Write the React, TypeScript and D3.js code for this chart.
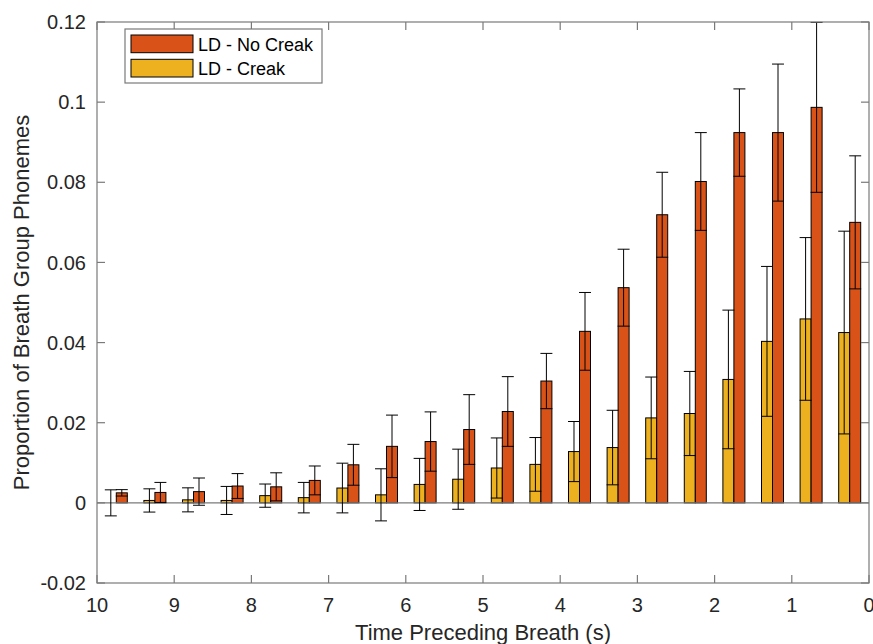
import React from 'react';
import * as d3 from 'd3';

// seconds before breath (group centres)
const times = [9.75, 9.25, 8.75, 8.25, 7.75, 7.25, 6.75, 6.25, 5.75, 5.25,
  4.75, 4.25, 3.75, 3.25, 2.75, 2.25, 1.75, 1.25, 0.75, 0.25];

const noCreak = [0.0025, 0.0026, 0.0028, 0.0042, 0.0040, 0.0056, 0.0095, 0.0141, 0.0153, 0.0183,
  0.0228, 0.0304, 0.0428, 0.0537, 0.0719, 0.0802, 0.0924, 0.0924, 0.0987, 0.0700];
const noCreakErr = [0.0008, 0.0025, 0.0034, 0.0031, 0.0035, 0.0036, 0.0051, 0.0078, 0.0074, 0.0087,
  0.0087, 0.0069, 0.0097, 0.0096, 0.0106, 0.0122, 0.0109, 0.0171, 0.0212, 0.0166];

const creak = [0.0000, 0.0006, 0.00075, 0.0006, 0.0018, 0.0013, 0.0037, 0.0020, 0.0046, 0.0059,
  0.0087, 0.0096, 0.0128, 0.0138, 0.0212, 0.0223, 0.0308, 0.0403, 0.0459, 0.0425];
const creakErr = [0.00325, 0.0029, 0.0030, 0.0035, 0.0029, 0.0038, 0.0062, 0.0065, 0.0065, 0.0075,
  0.0075, 0.0067, 0.0075, 0.0093, 0.0102, 0.0105, 0.0173, 0.0187, 0.0203, 0.0253];

const xTicks = [10, 9, 8, 7, 6, 5, 4, 3, 2, 1, 0];
const yTicks = [-0.02, 0, 0.02, 0.04, 0.06, 0.08, 0.1, 0.12];

const legendLabels = ['LD - No Creak', 'LD - Creak'];

const RED = '#D95319';
const YELLOW = '#EDB120';
const AXIS = '#7a7a7a';
const TEXT = '#262626';
const FONT = '"Liberation Sans", Arial, Helvetica, sans-serif';

export default function App() {
  const width = 873;
  const height = 644;
  const left = 97, right = 869, top = 22, bottom = 583;

  const x = d3.scaleLinear().domain([10, 0]).range([left, right]);
  const y = d3.scaleLinear().domain([-0.02, 0.12]).range([bottom, top]);

  const barW = x(0) - x(0.1425) > 0 ? Math.abs(x(0.1425) - x(0)) : 11;
  const capW = Math.abs(x(0.155) - x(0));
  const tickLen = 8;

  const errBar = (cx: number, v: number, e: number, key: string) => {
    const y1 = y(v + e), y2 = y(v - e);
    return (
      <g key={key} stroke="#000" strokeWidth={1}>
        <line x1={cx} x2={cx} y1={y1} y2={y2} />
        <line x1={cx - capW / 2} x2={cx + capW / 2} y1={y1} y2={y1} />
        <line x1={cx - capW / 2} x2={cx + capW / 2} y1={y2} y2={y2} />
      </g>
    );
  };

  return (
    <svg width={width} height={height} style={{ position: 'absolute', left: 0, top: 0, background: '#fff' }}
      fontFamily={FONT}>
      <rect x={0} y={0} width={width} height={height} fill="#fff" />

      {/* bars */}
      {times.map((t, i) => {
        const cx = x(t);
        return (
          <g key={'b' + i} stroke="#000" strokeWidth={1}>
            <rect x={cx - barW} y={y(creak[i])} width={barW} height={y(0) - y(creak[i])} fill={YELLOW} />
            <rect x={cx} y={y(noCreak[i])} width={barW} height={y(0) - y(noCreak[i])} fill={RED} />
          </g>
        );
      })}

      {/* baseline */}
      <line x1={left} x2={right} y1={y(0)} y2={y(0)} stroke={AXIS} strokeWidth={1.2} />

      {/* error bars */}
      {times.map((t, i) => errBar(x(t) - barW / 2, creak[i], creakErr[i], 'ec' + i))}
      {times.map((t, i) => errBar(x(t) + barW / 2, noCreak[i], noCreakErr[i], 'en' + i))}

      {/* axes box */}
      <rect x={left} y={top} width={right - left} height={bottom - top} fill="none" stroke={AXIS} strokeWidth={1.2} />

      {xTicks.map(t => (
        <g key={'xt' + t}>
          <line x1={x(t)} x2={x(t)} y1={bottom} y2={bottom - tickLen} stroke={AXIS} strokeWidth={1.2} />
          <line x1={x(t)} x2={x(t)} y1={top} y2={top + tickLen} stroke={AXIS} strokeWidth={1.2} />
          <text x={x(t)} y={612} textAnchor="middle" fontSize={20} fill={TEXT}>{t}</text>
        </g>
      ))}

      {yTicks.map(v => (
        <g key={'yt' + v}>
          <line x1={left} x2={left + tickLen} y1={y(v)} y2={y(v)} stroke={AXIS} strokeWidth={1.2} />
          <line x1={right} x2={right - tickLen} y1={y(v)} y2={y(v)} stroke={AXIS} strokeWidth={1.2} />
          <text x={86} y={y(v) + 7.2} textAnchor="end" fontSize={20} fill={TEXT}>{String(+v.toFixed(2))}</text>
        </g>
      ))}

      {/* axis titles */}
      <text x={(left + right) / 2} y={640} textAnchor="middle" fontSize={22} fill={TEXT}>Time Preceding Breath (s)</text>
      <text transform={`translate(29,${(top + bottom) / 2}) rotate(-90)`} textAnchor="middle" fontSize={22} fill={TEXT}>
        Proportion of Breath Group Phonemes
      </text>

      {/* legend */}
      <g>
        <rect x={125} y={29} width={197} height={54} fill="#fff" stroke={AXIS} strokeWidth={1.2} />
        {[RED, YELLOW].map((c, i) => (
          <g key={'lg' + i}>
            <rect x={131} y={35 + i * 24.3} width={62} height={17.7} fill={c} stroke="#000" strokeWidth={1} />
            <text x={198} y={51 + i * 24.3} fontSize={18} fill="#000">{legendLabels[i]}</text>
          </g>
        ))}
      </g>
    </svg>
  );
}
